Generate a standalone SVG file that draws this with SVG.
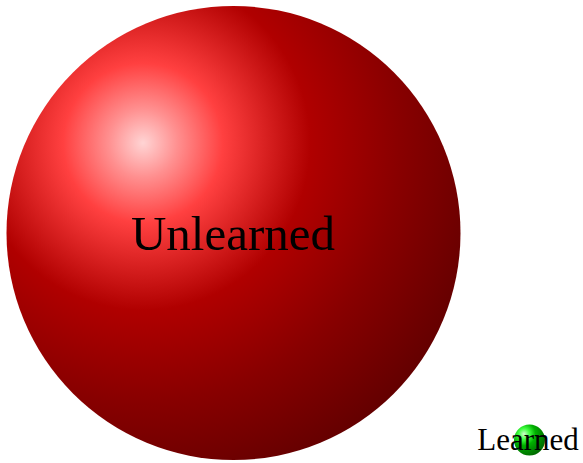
<svg xmlns="http://www.w3.org/2000/svg" width="583" height="463" viewBox="0 0 583 463">
<defs>
<radialGradient id="redBall" gradientUnits="userSpaceOnUse" cx="143" cy="143" r="380">
<stop offset="0" stop-color="#ffd4d4"/>
<stop offset="0.09" stop-color="#ff9090"/>
<stop offset="0.21" stop-color="#ff4040"/>
<stop offset="0.44" stop-color="#b00000"/>
<stop offset="0.68" stop-color="#880000"/>
<stop offset="1" stop-color="#5a0000"/>
</radialGradient>
<radialGradient id="greenBall" gradientUnits="userSpaceOnUse" cx="524" cy="434" r="26">
<stop offset="0" stop-color="#d4ffd4"/>
<stop offset="0.09" stop-color="#90ff90"/>
<stop offset="0.21" stop-color="#40ff40"/>
<stop offset="0.44" stop-color="#00b000"/>
<stop offset="0.68" stop-color="#008800"/>
<stop offset="1" stop-color="#005a00"/>
</radialGradient>
<style>
.lbl { font-family: "Liberation Serif", "Times New Roman", serif; fill: #000; text-anchor: middle; }
</style>
</defs>
<g id="connectors"/>
<g id="unlearned">
<circle cx="233.5" cy="233" r="227" fill="url(#redBall)"/>
<text class="lbl" x="233" y="250" font-size="49">Unlearned</text>
</g>
<g id="learned">
<circle cx="529.5" cy="440" r="15.5" fill="url(#greenBall)"/>
<text class="lbl" x="528" y="450" font-size="31">Learned</text>
</g>
</svg>
